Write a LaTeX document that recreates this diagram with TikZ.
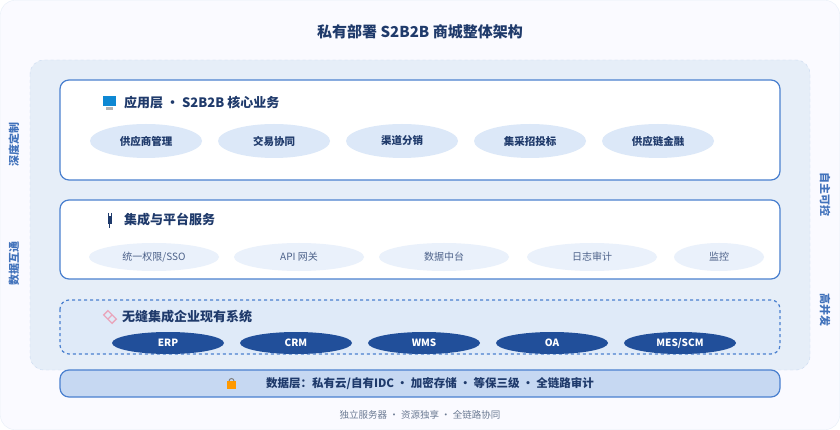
\documentclass[tikz,border=0pt]{standalone}
\usepackage{fontspec}
\setmainfont{Noto Sans CJK SC}
\usetikzlibrary{positioning}
\definecolor{ink}{HTML}{1F3A6B}
\definecolor{edge}{HTML}{4A80CF}
\definecolor{pane}{HTML}{E6EEF8}
\definecolor{pillA}{HTML}{DCE8F8}
\definecolor{pillB}{HTML}{EAF1FB}
\definecolor{pillC}{HTML}{214F9A}
\definecolor{grey}{HTML}{6B7A93}
\tikzset{
  layer/.style={draw=edge,line width=1.2pt,rounded corners=9pt,fill=white},
  head/.style={anchor=west,font=\bfseries\fontsize{13}{15}\selectfont,text=ink,inner sep=0pt},
  pillA/.style={ellipse,fill=pillA,minimum width=112pt,minimum height=34pt,inner sep=0pt,font=\bfseries\fontsize{10.5}{12}\selectfont,text=ink},
  pillB/.style={ellipse,fill=pillB,minimum width=130pt,minimum height=28pt,inner sep=0pt,font=\fontsize{10}{12}\selectfont,text=ink!80},
  pillC/.style={ellipse,fill=pillC,minimum width=112pt,minimum height=22pt,inner sep=0pt,font=\bfseries\fontsize{10}{12}\selectfont,text=white},
  side/.style={font=\bfseries\fontsize{11}{13}\selectfont,text=edge!80!ink},
}
\usetikzlibrary{shapes.geometric}
\begin{document}
\begin{tikzpicture}[x=1pt,y=-1pt]
	\useasboundingbox (0,0) rectangle (840,430);
	%BACKGROUND
	\draw[draw=pane,fill=blue!2,rounded corners=14pt] (0.5,0.5) rectangle (839.5,429.5);
	\node[font=\bfseries\fontsize{15}{17}\selectfont,text=ink] (title) at (420,32) {私有部署 S2B2B 商城整体架构};
	\draw[dashed,draw=edge!30,fill=pane,rounded corners=14pt] (30,60) rectangle (810,370);
	%SIDE LABELS
	\node[side,rotate=90] (s1) at (14,145) {深度定制};
	\node[side,rotate=90] (s2) at (14,263) {数据互通};
	\node[side,rotate=-90] (s3) at (825,195) {自主可控};
	\node[side,rotate=-90] (s4) at (825,310) {高并发};
	%LAYER 1
	\draw[layer] (60,80) rectangle (780,180);
	\fill[cyan!70!blue] (103,96) rectangle (116,106);
	\fill[gray!60] (106,107) rectangle (113,110);
	\node[head] (h1) at (124,103) {应用层 · S2B2B 核心业务};
	\foreach \t [count=\i] in {供应商管理,交易协同,渠道分销,集采招投标,供应链金融}
	  \node[pillA] (a\i) at (18+128*\i,141) {\t};
	%LAYER 2
	\draw[layer] (60,200) rectangle (780,279);
	\fill[ink] (107.5,216) rectangle (111.5,224);
	\draw[ink,line width=1pt] (109.5,224) -- (109.5,228);
	\draw[ink,line width=0.6pt] (108,213) -- (108,216) (111,213) -- (111,216);
	\node[head] (h2) at (124,220) {集成与平台服务};
	\node[pillB] (b1) at (154,257) {统一权限/SSO};
	\node[pillB] (b2) at (299,257) {API 网关};
	\node[pillB] (b3) at (444,257) {数据中台};
	\node[pillB] (b4) at (592,257) {日志审计};
	\node[pillB,minimum width=90pt] (b5) at (719,257) {监控};
	%LAYER 3
	\draw[draw=edge,line width=1.2pt,dashed,rounded corners=9pt,fill=pillA!70!pane] (60,300) rectangle (780,354);
	\draw[purple!35,line width=1.4pt,rotate around={-45:(110,317)}] (104,314) rectangle (110,320) (110,314) rectangle (116,320);
	\node[head] (h3) at (122,317) {无缝集成企业现有系统};
	\foreach \t [count=\i] in {ERP,CRM,WMS,OA,MES/SCM}
	  \node[pillC] (c\i) at (40+128*\i,343) {\t};
	%DATA LAYER
	\draw[draw=edge,line width=1.2pt,rounded corners=9pt,fill=pillA!85!edge] (60,370) rectangle (780,397);
	\node[font=\bfseries\fontsize{11.5}{13}\selectfont,text=ink] (d) at (430,384) {数据层：私有云/自有IDC · 加密存储 · 等保三级 · 全链路审计};
	\fill[orange!80!yellow] (227,381) rectangle (236,389);
	\draw[gray,line width=1pt] (229,381) arc (180:0:2.5pt);
	%FOOTER
	\node[font=\fontsize{9.5}{11}\selectfont,text=grey] (f) at (420,415) {独立服务器 · 资源独享 · 全链路协同};
\end{tikzpicture}
\end{document}
